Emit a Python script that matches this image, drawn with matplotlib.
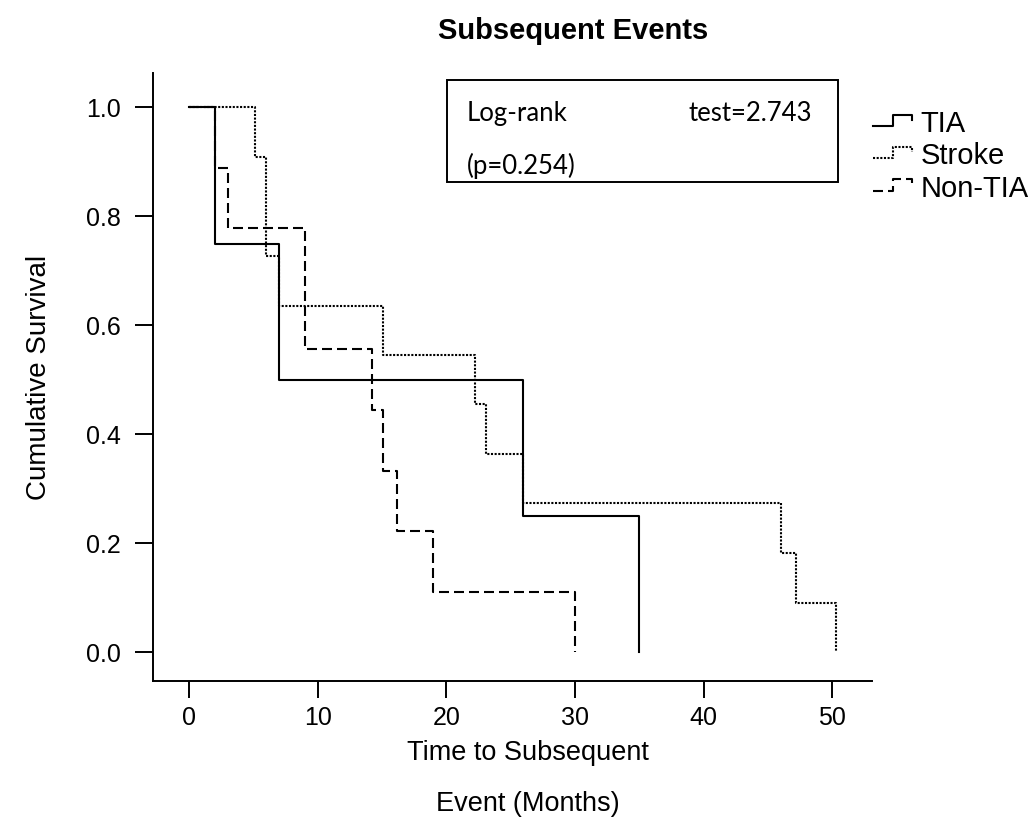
import numpy as np
import matplotlib
matplotlib.use('Agg')
import matplotlib.pyplot as plt
from matplotlib.lines import Line2D
from matplotlib.patches import Rectangle
from matplotlib.legend_handler import HandlerBase

plt.rcParams['font.family'] = ['Liberation Sans', 'DejaVu Sans']

# Kaplan-Meier steps (months, survival)
tia_t = [0, 2, 7, 26, 35]
tia_s = [1.0, 0.75, 0.50, 0.25, 0.0]

stroke_t = [0, 5.1, 6.0, 7.0, 15.1, 22.2, 23.1, 26.0, 46.0, 47.2, 50.3]
stroke_s = [1.0, 0.909, 0.727, 0.636, 0.545, 0.455, 0.364, 0.273, 0.182, 0.091, 0.0]

nontia_t = [0, 2, 3, 9, 14.2, 15.1, 16.2, 19.0, 30.0]
nontia_s = [1.0, 0.889, 0.778, 0.556, 0.444, 0.333, 0.222, 0.111, 0.0]

labels = ['TIA', 'Stroke', 'Non-TIA']
xticks = [0, 10, 20, 30, 40, 50]
yticks = [0.0, 0.2, 0.4, 0.6, 0.8, 1.0]


class StepHandler(HandlerBase):
    # little step glyph like the SPSS legend
    def create_artists(self, legend, orig_handle, xdescent, ydescent,
                       width, height, fontsize, trans):
        xs = np.array([0, 0.5, 0.5, 1.0, 1.0]) * width - xdescent
        ys = np.array([0.3, 0.3, 0.85, 0.85, 0.6]) * height - ydescent
        line = Line2D(xs, ys)
        line.update_from(orig_handle)
        line.set_data(xs, ys)
        line.set_clip_on(False)
        line.set_clip_box(None)
        line.set_transform(trans)
        return [line]


fig = plt.figure(figsize=(10.34, 8.23), dpi=100)
ax = fig.add_axes([153/1034, 1 - 681/823, 719/1034, 608/823])

l1, = ax.step(tia_t, tia_s, where='post', color='black', lw=1.5, ls='-')
l2, = ax.step(stroke_t, stroke_s, where='post', color='black', lw=1.5,
              ls=(0, (1, 0.75)))
l3, = ax.step(nontia_t, nontia_s, where='post', color='black', lw=1.5,
              ls=(0, (4.8, 2.4)))

ax.set_xlim(-2.8, 53.1)
ax.set_ylim(-0.053, 1.063)
ax.set_xticks(xticks)
ax.set_yticks(yticks)
ax.set_xticklabels([str(v) for v in xticks])
ax.set_yticklabels(['%.1f' % v for v in yticks])
for s in ['top', 'right']:
    ax.spines[s].set_visible(False)
for s in ['left', 'bottom']:
    ax.spines[s].set_linewidth(1.4)
ax.tick_params(axis='y', direction='out', length=13, width=1.4, pad=10,
               labelsize=18)
ax.tick_params(axis='x', direction='out', length=12, width=1.4, pad=6,
               labelsize=18)

ax.set_xlabel('Time to Subsequent\nEvent (Months)', fontsize=19.5,
              linespacing=2.27)
ax.xaxis.set_label_coords(0.5216, -0.097)
ax.set_ylabel('Cumulative Survival', fontsize=20)
ax.yaxis.set_label_coords(-0.14, 0.5)

fig.text(573/1034, 1 - 31/823, 'Subsequent Events', fontsize=21,
         fontweight='bold', ha='center', va='center')

# log-rank box
ax.add_patch(Rectangle((0.409, 0.8207), 0.544, 0.1678, transform=ax.transAxes,
                       fill=False, lw=1.4, edgecolor='black', clip_on=False))
ax.text(0.4367, 0.934, 'Log-rank', transform=ax.transAxes, fontsize=18.5,
        family='Lato', va='center', ha='left')
ax.text(0.9166, 0.934, 'test=2.743', transform=ax.transAxes, fontsize=18.5,
        family='Lato', va='center', ha='right')
ax.text(0.4367, 0.847, '(p=0.254)', transform=ax.transAxes, fontsize=18.5,
        family='Lato', va='center', ha='left')

ax.legend([l1, l2, l3], labels, handler_map={Line2D: StepHandler()},
          frameon=False, loc='upper left',
          bbox_to_anchor=(873/1034, 1 - 110/823), bbox_transform=fig.transFigure,
          borderpad=0, borderaxespad=0, handlelength=1.34, handletextpad=0.28,
          labelspacing=0.15, fontsize=21)

fig.savefig('out.png', dpi=100)
